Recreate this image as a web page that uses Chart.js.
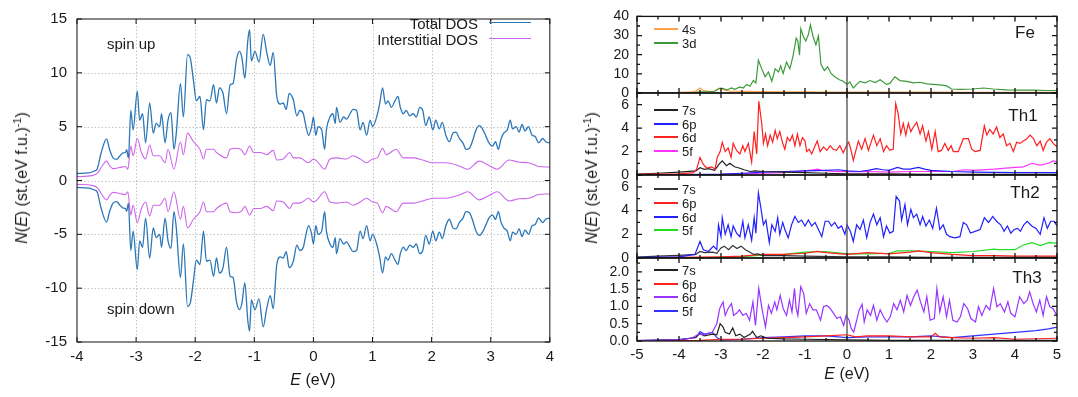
<!DOCTYPE html>
<html>
<head>
<meta charset="utf-8">
<script src="https://cdn.jsdelivr.net/npm/chart.js@4.4.1/dist/chart.umd.min.js"></script>
<style>
html, body { margin: 0; padding: 0; background: #fff; }
#wrap { position: relative; width: 1078px; height: 397px; overflow: hidden;
        font-family: "Liberation Sans", Arial, sans-serif; color: #1a1a1a; }
canvas { position: absolute; top: 0; }
.t { position: absolute; white-space: nowrap; line-height: 1; transform: translate(0, -50%); }
.r { transform: translate(-100%, -50%); }
.c { transform: translate(-50%, -50%); }
.v { transform: translate(-50%, -50%) rotate(-90deg); }
.sw { position: absolute; height: 0; }
sup { font-size: 0.68em; vertical-align: 0.55em; line-height: 0; }
.lg { font-size: 13px; }
</style>
</head>
<body>
<div id="wrap">
  <canvas id="dos" width="560" height="397" style="left:0"></canvas>
  <canvas id="pFe" width="518" height="397" style="left:560px"></canvas>
  <canvas id="pTh1" width="518" height="397" style="left:560px"></canvas>
  <canvas id="pTh2" width="518" height="397" style="left:560px"></canvas>
  <canvas id="pTh3" width="518" height="397" style="left:560px"></canvas>

  <!-- total / interstitial DOS panel labels -->
  <div class="t" style="left:107px;top:43px;font-size:15px">spin up</div>
  <div class="t" style="left:107px;top:308px;font-size:15px">spin down</div>
  <div class="t r" style="left:478px;top:23px;font-size:15px">Total DOS</div>
  <div class="sw" style="left:489px;top:22px;width:42px;border-top:1.5px solid #2b77b8"></div>
  <div class="t r" style="left:478px;top:38.5px;font-size:15px">Interstitial DOS</div>
  <div class="sw" style="left:489px;top:38px;width:42px;border-top:1.5px solid #cc66ee"></div>
  <div class="t v" style="left:22px;top:178px;font-size:16px"><i>N</i>(<i>E</i>) (st.(eV f.u.)<sup>-1</sup>)</div>
  <div class="t c" style="left:313px;top:380px;font-size:16px"><i>E</i> (eV)</div>

  <!-- partial DOS labels -->
  <div class="t v" style="left:592px;top:178px;font-size:16px"><i>N</i>(<i>E</i>) (st.(eV f.u.)<sup>-1</sup>)</div>
  <div class="t c" style="left:847px;top:374px;font-size:16px"><i>E</i> (eV)</div>
  <div class="t c" style="left:1025px;top:32px;font-size:17px">Fe</div>
  <div class="t c" style="left:1023px;top:115px;font-size:17px">Th1</div>
  <div class="t c" style="left:1025px;top:192px;font-size:17px">Th2</div>
  <div class="t c" style="left:1027px;top:277px;font-size:17px">Th3</div>

  <div class="sw" style="left:654px;top:28px;width:24px;border-top:2px solid #ffa24a"></div>
  <div class="t lg" style="left:682px;top:29px">4s</div>
  <div class="sw" style="left:654px;top:42px;width:24px;border-top:2px solid #3a9a3a"></div>
  <div class="t lg" style="left:682px;top:43px">3d</div>

  <div class="sw" style="left:654px;top:109px;width:24px;border-top:2px solid #222"></div>
  <div class="t lg" style="left:682px;top:110px">7s</div>
  <div class="sw" style="left:654px;top:123px;width:24px;border-top:2px solid #2020ff"></div>
  <div class="t lg" style="left:682px;top:124px">6p</div>
  <div class="sw" style="left:654px;top:136px;width:24px;border-top:2px solid #ff2020"></div>
  <div class="t lg" style="left:682px;top:137px">6d</div>
  <div class="sw" style="left:654px;top:150px;width:24px;border-top:2px solid #ff33ff"></div>
  <div class="t lg" style="left:682px;top:151px">5f</div>

  <div class="sw" style="left:654px;top:188px;width:24px;border-top:2px solid #333"></div>
  <div class="t lg" style="left:682px;top:189px">7s</div>
  <div class="sw" style="left:654px;top:202px;width:24px;border-top:2px solid #ff2020"></div>
  <div class="t lg" style="left:682px;top:203px">6p</div>
  <div class="sw" style="left:654px;top:216px;width:24px;border-top:2px solid #2020ff"></div>
  <div class="t lg" style="left:682px;top:217px">6d</div>
  <div class="sw" style="left:654px;top:229px;width:24px;border-top:2px solid #22dd22"></div>
  <div class="t lg" style="left:682px;top:230px">5f</div>

  <div class="sw" style="left:654px;top:269px;width:24px;border-top:2px solid #222"></div>
  <div class="t lg" style="left:682px;top:270px">7s</div>
  <div class="sw" style="left:654px;top:283px;width:24px;border-top:2px solid #ff2020"></div>
  <div class="t lg" style="left:682px;top:284px">6p</div>
  <div class="sw" style="left:654px;top:296px;width:24px;border-top:2px solid #9933ff"></div>
  <div class="t lg" style="left:682px;top:297px">6d</div>
  <div class="sw" style="left:654px;top:310px;width:24px;border-top:2px solid #3333ff"></div>
  <div class="t lg" style="left:682px;top:311px">5f</div>
</div>

<script>
// ---- Total and interstitial DOS, [E (eV), N(E)] ----
const totalUp = [[-4.00,0.65],[-3.80,0.70],[-3.70,0.90],[-3.66,1.05],[-3.59,2.6],[-3.50,3.86],[-3.45,2.9],[-3.39,2.1],[-3.33,1.96],[-3.28,2.26],[-3.22,2.56],[-3.18,2.6],[-3.16,2.86],[-3.13,2.1],[-3.09,6.5],[-3.05,4.7],[-2.98,8.3],[-2.94,5.6],[-2.89,6.2],[-2.84,3.5],[-2.77,7.2],[-2.71,4.4],[-2.66,5.3],[-2.60,5.0],[-2.57,6.2],[-2.51,3.5],[-2.46,5.6],[-2.41,6.3],[-2.36,2.9],[-2.32,4.4],[-2.25,9.0],[-2.20,5.9],[-2.13,11.7],[-2.08,11.3],[-2.03,9.3],[-1.98,7.4],[-1.92,7.8],[-1.86,4.7],[-1.81,7.5],[-1.75,7.4],[-1.69,8.9],[-1.64,7.2],[-1.59,8.6],[-1.53,8.1],[-1.47,6.2],[-1.41,8.9],[-1.36,9.0],[-1.30,11.3],[-1.25,12.0],[-1.21,11.4],[-1.16,9.5],[-1.11,13.0],[-1.08,14.0],[-1.05,11.1],[-0.99,12.0],[-0.92,11.0],[-0.85,13.6],[-0.79,11.9],[-0.73,10.7],[-0.68,11.9],[-0.62,7.8],[-0.56,7.1],[-0.51,7.2],[-0.46,6.6],[-0.41,8.1],[-0.34,7.5],[-0.28,6.0],[-0.23,6.5],[-0.17,6.2],[-0.14,5.4],[-0.08,4.2],[-0.03,5.0],[0.00,5.9],[0.04,4.2],[0.08,5.0],[0.14,4.7],[0.19,2.9],[0.22,4.7],[0.28,5.9],[0.33,6.2],[0.37,5.3],[0.39,6.8],[0.45,5.4],[0.51,5.9],[0.56,5.7],[0.62,6.2],[0.67,6.6],[0.73,6.5],[0.79,4.7],[0.84,5.4],[0.90,4.2],[0.96,5.6],[1.00,5.0],[1.07,5.9],[1.12,7.1],[1.17,8.6],[1.22,7.1],[1.26,7.4],[1.32,6.8],[1.38,7.4],[1.43,7.8],[1.47,6.8],[1.52,6.2],[1.57,6.5],[1.63,6.0],[1.69,6.2],[1.74,5.9],[1.80,6.8],[1.85,6.5],[1.90,5.1],[1.96,5.9],[2.02,4.7],[2.07,5.6],[2.13,4.8],[2.18,5.4],[2.24,4.2],[2.30,3.6],[2.36,4.4],[2.41,4.5],[2.47,3.9],[2.53,3.5],[2.58,2.9],[2.64,3.0],[2.70,3.8],[2.75,4.7],[2.81,5.1],[2.86,4.8],[2.92,4.1],[2.97,3.5],[3.03,3.2],[3.08,3.6],[3.13,2.9],[3.17,3.8],[3.22,4.4],[3.28,4.7],[3.33,5.6],[3.37,4.8],[3.43,5.0],[3.48,4.5],[3.53,5.2],[3.58,4.6],[3.64,5.0],[3.70,4.2],[3.75,4.1],[3.81,3.5],[3.88,3.9],[3.93,3.6],[4.00,3.5]];

const totalDown = [[-4.00,-0.65],[-3.80,-0.70],[-3.70,-0.90],[-3.66,-1.05],[-3.59,-2.6],[-3.50,-3.86],[-3.45,-2.9],[-3.39,-2.1],[-3.33,-1.96],[-3.28,-2.26],[-3.22,-2.56],[-3.18,-2.6],[-3.16,-2.86],[-3.13,-2.1],[-3.09,-6.5],[-3.05,-4.7],[-2.98,-8.3],[-2.94,-5.6],[-2.89,-6.2],[-2.84,-3.5],[-2.77,-7.2],[-2.71,-4.4],[-2.66,-5.3],[-2.60,-5.0],[-2.57,-6.2],[-2.51,-3.5],[-2.46,-5.6],[-2.41,-6.3],[-2.36,-2.9],[-2.32,-4.4],[-2.25,-9.0],[-2.20,-5.9],[-2.13,-11.7],[-2.08,-11.3],[-2.03,-9.3],[-1.98,-7.4],[-1.92,-7.8],[-1.86,-4.7],[-1.81,-7.5],[-1.75,-7.4],[-1.69,-8.9],[-1.64,-7.2],[-1.59,-8.6],[-1.53,-8.1],[-1.47,-6.2],[-1.41,-8.9],[-1.36,-9.0],[-1.30,-11.3],[-1.25,-12.0],[-1.21,-11.4],[-1.16,-9.5],[-1.11,-13.0],[-1.08,-14.0],[-1.05,-11.1],[-0.99,-12.0],[-0.92,-11.0],[-0.85,-13.6],[-0.79,-11.9],[-0.73,-10.7],[-0.68,-11.9],[-0.62,-7.8],[-0.56,-7.1],[-0.51,-7.2],[-0.46,-6.6],[-0.41,-8.1],[-0.34,-7.5],[-0.28,-6.0],[-0.23,-6.5],[-0.17,-6.2],[-0.14,-5.4],[-0.08,-4.2],[-0.03,-5.0],[0.00,-5.9],[0.04,-4.2],[0.08,-5.0],[0.14,-4.7],[0.19,-2.9],[0.22,-4.7],[0.28,-5.9],[0.33,-6.2],[0.37,-5.3],[0.39,-6.8],[0.45,-5.4],[0.51,-5.9],[0.56,-5.7],[0.62,-6.2],[0.67,-6.6],[0.73,-6.5],[0.79,-4.7],[0.84,-5.4],[0.90,-4.2],[0.96,-5.6],[1.00,-5.0],[1.07,-5.9],[1.12,-7.1],[1.17,-8.6],[1.22,-7.1],[1.26,-7.4],[1.32,-6.8],[1.38,-7.4],[1.43,-7.8],[1.47,-6.8],[1.52,-6.2],[1.57,-6.5],[1.63,-6.0],[1.69,-6.2],[1.74,-5.9],[1.80,-6.8],[1.85,-6.5],[1.90,-5.1],[1.96,-5.9],[2.02,-4.7],[2.07,-5.6],[2.13,-4.8],[2.18,-5.4],[2.24,-4.2],[2.30,-3.6],[2.36,-4.4],[2.41,-4.5],[2.47,-3.9],[2.53,-3.5],[2.58,-2.9],[2.64,-3.0],[2.70,-3.8],[2.75,-4.7],[2.81,-5.1],[2.86,-4.8],[2.92,-4.1],[2.97,-3.5],[3.03,-3.2],[3.08,-3.6],[3.13,-2.9],[3.17,-3.8],[3.22,-4.4],[3.28,-4.7],[3.33,-5.6],[3.37,-4.8],[3.43,-5.0],[3.48,-4.5],[3.53,-5.2],[3.58,-4.6],[3.64,-5.0],[3.70,-4.2],[3.75,-4.1],[3.81,-3.5],[3.88,-3.9],[3.93,-3.6],[4.00,-3.5]];

const interUp = [[-4.00,0.36],[-3.75,0.45],[-3.65,0.7],[-3.58,1.3],[-3.50,1.8],[-3.45,1.4],[-3.39,1.1],[-3.28,1.2],[-3.18,1.3],[-3.14,1.05],[-3.09,3.2],[-3.05,2.3],[-2.98,3.9],[-2.91,2.6],[-2.84,2.0],[-2.77,3.3],[-2.71,2.3],[-2.60,2.3],[-2.51,1.65],[-2.46,2.9],[-2.36,1.05],[-2.25,3.6],[-2.20,2.4],[-2.13,4.4],[-2.03,3.6],[-1.92,2.9],[-1.86,2.0],[-1.81,2.9],[-1.69,2.9],[-1.64,2.6],[-1.47,2.1],[-1.41,2.9],[-1.30,3.0],[-1.21,2.8],[-1.16,2.4],[-1.08,3.2],[-1.01,2.6],[-0.90,2.6],[-0.79,2.4],[-0.68,2.8],[-0.62,1.9],[-0.51,2.0],[-0.40,2.6],[-0.34,2.1],[-0.23,2.1],[-0.08,1.65],[0.00,2.0],[0.06,1.8],[0.19,1.05],[0.28,2.0],[0.39,2.1],[0.56,2.0],[0.67,2.3],[0.79,2.0],[0.90,1.65],[1.00,2.0],[1.08,2.1],[1.17,3.0],[1.23,2.4],[1.40,2.9],[1.52,2.1],[1.69,2.1],[1.85,1.9],[2.02,1.65],[2.24,1.65],[2.47,1.35],[2.61,1.05],[2.81,1.8],[2.97,1.4],[3.11,1.05],[3.31,1.9],[3.48,1.7],[3.64,1.65],[3.81,1.3],[4.00,1.25]];

const interDown = [[-4.00,-0.36],[-3.75,-0.45],[-3.65,-0.7],[-3.58,-1.3],[-3.50,-1.8],[-3.45,-1.4],[-3.39,-1.1],[-3.28,-1.2],[-3.18,-1.3],[-3.14,-1.05],[-3.09,-3.2],[-3.05,-2.3],[-2.98,-3.9],[-2.91,-2.6],[-2.84,-2.0],[-2.77,-3.3],[-2.71,-2.3],[-2.60,-2.3],[-2.51,-1.65],[-2.46,-2.9],[-2.36,-1.05],[-2.25,-3.6],[-2.20,-2.4],[-2.13,-4.4],[-2.03,-3.6],[-1.92,-2.9],[-1.86,-2.0],[-1.81,-2.9],[-1.69,-2.9],[-1.64,-2.6],[-1.47,-2.1],[-1.41,-2.9],[-1.30,-3.0],[-1.21,-2.8],[-1.16,-2.4],[-1.08,-3.2],[-1.01,-2.6],[-0.90,-2.6],[-0.79,-2.4],[-0.68,-2.8],[-0.62,-1.9],[-0.51,-2.0],[-0.40,-2.6],[-0.34,-2.1],[-0.23,-2.1],[-0.08,-1.65],[0.00,-2.0],[0.06,-1.8],[0.19,-1.05],[0.28,-2.0],[0.39,-2.1],[0.56,-2.0],[0.67,-2.3],[0.79,-2.0],[0.90,-1.65],[1.00,-2.0],[1.08,-2.1],[1.17,-3.0],[1.23,-2.4],[1.40,-2.9],[1.52,-2.1],[1.69,-2.1],[1.85,-1.9],[2.02,-1.65],[2.24,-1.65],[2.47,-1.35],[2.61,-1.05],[2.81,-1.8],[2.97,-1.4],[3.11,-1.05],[3.31,-1.9],[3.48,-1.7],[3.64,-1.65],[3.81,-1.3],[4.00,-1.25]];

// ---- Partial DOS, [E (eV), N(E)] ----
const fe3d = [[-5,0.05],[-4.5,0.1],[-4,0.2],[-3.6,0.4],[-3.5,0.6],[-3.3,0.7],[-3.15,0.9],[-3.1,1.6],[-3.02,2.6],[-2.94,2.3],[-2.86,1.6],[-2.75,2.6],[-2.67,1.9],[-2.55,3.2],[-2.47,2.6],[-2.39,4.5],[-2.31,3.5],[-2.23,6.5],[-2.17,5.2],[-2.11,17.1],[-2.03,12.6],[-1.95,8.5],[-1.87,11.0],[-1.79,6.1],[-1.71,12.6],[-1.63,11.0],[-1.58,14.2],[-1.52,10.2],[-1.44,16.1],[-1.36,12.6],[-1.28,19.8],[-1.21,28.7],[-1.17,27.1],[-1.13,19.8],[-1.10,33.5],[-1.04,29.5],[-0.98,27.1],[-0.92,30.6],[-0.87,35.6],[-0.80,28.7],[-0.74,25.2],[-0.68,29.8],[-0.62,15.0],[-0.54,11.8],[-0.46,13.7],[-0.38,10.2],[-0.29,8.5],[-0.18,6.9],[-0.09,6.1],[0.00,4.5],[0.07,5.8],[0.15,2.6],[0.23,4.5],[0.31,6.1],[0.43,5.3],[0.55,6.5],[0.67,5.5],[0.79,6.9],[0.94,4.5],[1.02,5.0],[1.14,8.5],[1.26,6.5],[1.42,6.1],[1.58,5.3],[1.74,5.6],[1.90,4.8],[2.06,4.5],[2.21,4.2],[2.37,3.7],[2.49,2.1],[2.69,1.9],[3.00,2.1],[3.25,2.6],[3.48,2.1],[3.80,1.6],[4.12,1.5],[4.44,1.5],[4.75,1.3],[5.00,1.3]];
const fe4s = [[-5,0.1],[-4.5,0.2],[-4,0.3],[-3.7,0.6],[-3.6,1.0],[-3.5,2.6],[-3.42,1.2],[-3.3,0.9],[-3.15,1.0],[-3.05,2.4],[-2.95,1.8],[-2.8,1.0],[-2.5,0.8],[-2,0.7],[-1.5,0.6],[-1,0.6],[-0.5,0.5],[0,0.5],[1,0.5],[2,0.5],[3,0.4],[4,0.4],[5,0.4]];

const th1d6 = [[-5,0.05],[-4.5,0.08],[-4,0.1],[-3.66,0.2],[-3.58,0.5],[-3.50,1.5],[-3.42,0.9],[-3.34,0.6],[-3.22,0.7],[-3.14,0.5],[-3.09,1.5],[-3.02,2.0],[-2.97,2.8],[-2.90,2.0],[-2.83,2.3],[-2.76,1.5],[-2.71,2.7],[-2.63,2.1],[-2.55,1.8],[-2.48,2.5],[-2.43,2.0],[-2.35,2.7],[-2.27,1.1],[-2.21,3.7],[-2.15,1.8],[-2.10,6.3],[-2.03,4.4],[-1.99,2.7],[-1.94,3.5],[-1.89,2.5],[-1.83,3.4],[-1.77,2.8],[-1.71,3.8],[-1.66,3.1],[-1.60,3.7],[-1.53,2.7],[-1.48,2.2],[-1.42,3.2],[-1.36,2.9],[-1.30,3.4],[-1.24,2.5],[-1.18,3.5],[-1.12,2.5],[-1.06,3.2],[-1.00,2.9],[-0.96,2.0],[-0.90,2.2],[-0.84,1.8],[-0.76,2.5],[-0.71,2.9],[-0.64,2.0],[-0.56,2.4],[-0.48,2.1],[-0.40,2.5],[-0.33,2.2],[-0.25,2.1],[-0.17,2.5],[-0.09,1.9],[0.00,2.6],[0.04,2.8],[0.09,2.2],[0.15,1.25],[0.27,2.9],[0.35,2.2],[0.43,3.1],[0.51,2.1],[0.63,3.4],[0.71,2.5],[0.79,3.1],[0.87,2.0],[0.94,2.5],[1.02,2.1],[1.10,2.2],[1.16,6.1],[1.22,5.2],[1.28,3.5],[1.34,4.4],[1.40,3.4],[1.46,4.4],[1.52,3.7],[1.58,4.1],[1.66,4.5],[1.74,3.5],[1.80,4.2],[1.88,2.9],[1.94,3.7],[2.02,2.2],[2.10,3.7],[2.17,2.0],[2.25,2.1],[2.33,2.7],[2.41,2.1],[2.48,2.5],[2.53,2.0],[2.65,2.0],[2.77,3.1],[2.89,3.1],[2.97,2.2],[3.05,2.0],[3.17,2.1],[3.27,4.2],[3.33,3.4],[3.40,3.9],[3.48,3.5],[3.56,4.1],[3.64,3.2],[3.72,3.5],[3.80,2.5],[3.88,2.7],[3.96,2.0],[4.04,2.8],[4.12,2.7],[4.20,2.9],[4.28,3.1],[4.36,3.4],[4.44,3.1],[4.52,2.5],[4.60,2.9],[4.67,2.1],[4.75,2.8],[4.83,3.1],[4.91,2.7],[5.00,2.4]];
const th1s7 = [[-5,0.08],[-4.5,0.15],[-4,0.25],[-3.6,0.35],[-3.5,0.62],[-3.4,0.48],[-3.3,0.55],[-3.15,0.4],[-3.05,0.9],[-2.97,1.2],[-2.87,0.8],[-2.79,1.0],[-2.68,0.7],[-2.57,0.6],[-2.45,0.45],[-2.3,0.3],[-2.2,0.35],[-2.0,0.3],[-1.5,0.25],[-1.0,0.2],[-0.5,0.15],[0,0.1],[1,0.1],[2,0.06],[3,0.05],[4,0.05],[5,0.05]];
const th1p6 = [[-5,0.02],[-3.5,0.05],[-3,0.08],[-2.5,0.15],[-2,0.25],[-1.5,0.3],[-1,0.35],[-0.5,0.4],[-0.2,0.45],[0,0.35],[0.3,0.3],[0.5,0.4],[0.7,0.55],[0.85,0.45],[1.0,0.4],[1.2,0.65],[1.35,0.5],[1.5,0.5],[1.7,0.65],[1.85,0.5],[2,0.4],[2.5,0.3],[3,0.25],[4,0.2],[5,0.2]];
const th1f5 = [[-5,0.01],[-3,0.05],[-2.5,0.1],[-2,0.15],[-1.5,0.2],[-1.2,0.3],[-1,0.35],[-0.8,0.45],[-0.7,0.5],[-0.6,0.4],[-0.3,0.3],[0,0.28],[0.5,0.3],[1,0.25],[1.5,0.3],[2,0.3],[2.5,0.3],[2.8,0.45],[3,0.4],[3.5,0.5],[4,0.65],[4.2,0.7],[4.4,1.0],[4.6,0.85],[4.8,1.0],[4.9,1.2],[5,1.15]];

const th2d6 = [[-5,0.05],[-4.5,0.08],[-4,0.1],[-3.62,0.3],[-3.50,1.4],[-3.42,0.7],[-3.30,0.55],[-3.18,1.0],[-3.10,0.7],[-3.06,2.8],[-3.00,1.8],[-2.97,3.4],[-2.90,2.0],[-2.83,2.8],[-2.76,1.8],[-2.71,2.7],[-2.63,2.1],[-2.55,1.8],[-2.48,3.1],[-2.43,1.7],[-2.35,2.8],[-2.27,1.5],[-2.21,3.4],[-2.17,2.1],[-2.11,5.5],[-2.05,4.2],[-1.99,2.8],[-1.93,3.2],[-1.85,1.3],[-1.79,2.8],[-1.71,2.25],[-1.65,3.4],[-1.60,2.0],[-1.53,3.0],[-1.48,2.4],[-1.40,1.7],[-1.32,2.8],[-1.24,3.5],[-1.16,3.0],[-1.08,3.2],[-1.00,2.7],[-0.92,3.2],[-0.84,2.7],[-0.76,3.0],[-0.68,2.4],[-0.60,1.8],[-0.52,3.1],[-0.44,3.1],[-0.37,2.7],[-0.29,3.0],[-0.21,2.5],[-0.13,2.7],[-0.05,2.0],[0.00,2.8],[0.08,2.25],[0.15,1.4],[0.23,2.8],[0.31,2.4],[0.39,3.2],[0.47,1.7],[0.55,3.0],[0.63,3.7],[0.71,2.8],[0.79,3.4],[0.87,1.8],[0.94,2.7],[1.02,2.1],[1.10,2.25],[1.17,5.2],[1.25,4.8],[1.30,3.2],[1.38,4.5],[1.44,2.8],[1.52,4.1],[1.58,3.4],[1.66,3.7],[1.74,2.8],[1.80,3.5],[1.88,2.7],[1.96,3.2],[2.04,2.5],[2.13,4.2],[2.21,2.4],[2.29,2.8],[2.37,2.0],[2.45,1.8],[2.57,1.7],[2.69,1.8],[2.77,3.0],[2.85,2.8],[2.94,2.1],[3.05,2.25],[3.17,2.4],[3.27,3.4],[3.37,3.0],[3.47,3.5],[3.56,3.1],[3.66,2.8],[3.74,2.25],[3.82,2.7],[3.90,2.1],[3.98,2.4],[4.06,2.5],[4.13,2.25],[4.21,2.8],[4.29,3.1],[4.40,2.7],[4.50,2.5],[4.60,2.0],[4.69,3.4],[4.77,2.5],[4.85,3.1],[4.93,3.1],[5.00,2.7]];
const th2s7 = [[-5,0.08],[-4.5,0.15],[-4,0.22],[-3.6,0.3],[-3.5,0.55],[-3.4,0.45],[-3.2,0.5],[-3.1,0.4],[-3.0,0.85],[-2.92,1.0],[-2.82,0.7],[-2.72,1.05],[-2.62,0.8],[-2.52,1.0],[-2.42,0.7],[-2.32,0.5],[-2.22,0.3],[-2.12,0.35],[-2.0,0.2],[-1.5,0.2],[-1.0,0.15],[0,0.1],[1,0.1],[2,0.05],[3,0.05],[5,0.05]];
const th2p6 = [[-5,0.02],[-3.5,0.08],[-3,0.1],[-2.5,0.15],[-2,0.3],[-1.5,0.3],[-1,0.4],[-0.7,0.55],[-0.5,0.45],[0,0.3],[0.5,0.45],[1,0.35],[1.5,0.5],[1.7,0.6],[2,0.45],[2.5,0.3],[3,0.2],[3.5,0.2],[4,0.15],[5,0.15]];
const th2f5 = [[-5,0.01],[-3,0.05],[-2.5,0.12],[-2,0.25],[-1.5,0.3],[-1,0.5],[-0.5,0.55],[0,0.35],[0.5,0.35],[1,0.4],[1.2,0.6],[1.5,0.6],[2,0.55],[2.5,0.45],[3,0.55],[3.5,0.75],[3.6,0.7],[4,0.7],[4.2,1.1],[4.4,1.3],[4.6,1.05],[4.8,1.3],[5,1.25]];

const th3d6 = [[-5,0.01],[-4.5,0.02],[-4,0.04],[-3.7,0.08],[-3.53,0.2],[-3.4,0.18],[-3.21,0.25],[-3.10,0.5],[-3.03,0.94],[-2.95,1.13],[-2.90,0.74],[-2.83,0.94],[-2.75,1.08],[-2.70,0.74],[-2.63,0.8],[-2.56,0.9],[-2.48,0.74],[-2.40,0.8],[-2.32,0.6],[-2.24,1.13],[-2.18,0.45],[-2.10,1.52],[-2.02,0.9],[-1.94,0.4],[-1.87,1.03],[-1.80,0.8],[-1.72,1.13],[-1.67,0.9],[-1.59,1.32],[-1.52,0.94],[-1.44,0.74],[-1.37,1.18],[-1.31,0.84],[-1.25,1.52],[-1.21,0.94],[-1.17,0.74],[-1.10,1.57],[-1.03,1.37],[-0.97,0.8],[-0.89,1.08],[-0.81,0.9],[-0.73,0.9],[-0.63,0.6],[-0.56,0.99],[-0.48,1.03],[-0.40,0.94],[-0.32,0.8],[-0.24,0.65],[-0.16,0.7],[-0.08,0.45],[-0.02,0.74],[0.05,0.6],[0.10,0.36],[0.16,0.26],[0.24,0.65],[0.29,0.9],[0.36,1.06],[0.41,0.55],[0.48,0.9],[0.56,0.74],[0.63,1.03],[0.71,0.6],[0.79,0.9],[0.87,0.7],[0.95,0.55],[1.03,0.7],[1.11,1.08],[1.19,0.9],[1.27,1.18],[1.35,0.84],[1.43,1.32],[1.51,1.03],[1.59,1.28],[1.67,1.47],[1.75,1.13],[1.83,0.84],[1.90,1.28],[1.98,0.6],[2.08,0.65],[2.14,1.52],[2.21,0.84],[2.29,1.28],[2.37,0.7],[2.44,1.18],[2.52,0.6],[2.62,0.55],[2.70,0.7],[2.78,1.08],[2.87,0.94],[2.95,0.65],[3.06,0.55],[3.13,0.99],[3.21,0.74],[3.31,1.03],[3.40,0.9],[3.49,1.52],[3.57,0.99],[3.65,1.08],[3.75,0.84],[3.83,1.13],[3.90,0.8],[4.00,0.7],[4.11,1.28],[4.21,1.08],[4.29,1.18],[4.35,1.42],[4.43,1.08],[4.51,0.84],[4.59,1.18],[4.67,0.74],[4.75,1.28],[4.83,0.99],[4.90,0.94],[5.00,0.74]];
const th3s7 = [[-5,0.01],[-4,0.04],[-3.6,0.1],[-3.5,0.22],[-3.4,0.15],[-3.2,0.2],[-3.1,0.18],[-3.02,0.5],[-2.95,0.4],[-2.9,0.25],[-2.8,0.2],[-2.72,0.38],[-2.65,0.15],[-2.55,0.2],[-2.45,0.1],[-2.3,0.2],[-2.25,0.28],[-2.15,0.1],[-2.05,0.15],[-1.9,0.08],[-1.5,0.06],[-1,0.05],[0,0.03],[1,0.02],[2,0.02],[5,0.02]];
const th3p6 = [[-5,0.005],[-3.5,0.02],[-3,0.05],[-2.5,0.05],[-2,0.08],[-1.5,0.1],[-1,0.12],[-0.5,0.15],[0,0.18],[0.2,0.12],[0.5,0.15],[1,0.15],[1.5,0.12],[2,0.12],[2.1,0.22],[2.2,0.12],[2.5,0.1],[3,0.08],[3.5,0.1],[4,0.05],[5,0.08]];
const th3f5 = [[-5,0.01],[-4,0.03],[-3.6,0.1],[-3.5,0.27],[-3.4,0.2],[-3.2,0.25],[-3.1,0.1],[-3,0.03],[-2.5,0.05],[-2,0.1],[-1.5,0.12],[-1,0.15],[-0.5,0.15],[0,0.1],[0.5,0.12],[1,0.12],[1.5,0.12],[2,0.15],[2.5,0.1],[3,0.15],[3.5,0.2],[4,0.25],[4.5,0.3],[4.8,0.35],[5,0.4]];

// ---- Drawing helpers ----
const FONT = '"Liberation Sans", Arial, sans-serif';

// Frame, inward tick marks, optional dotted grid and Fermi-level line
const decor = {
  id: 'decor',
  beforeDatasetsDraw(chart, args, o) {
    if (!o.grid) return;
    const { ctx, chartArea: a, scales: { x, y } } = chart;
    ctx.save();
    ctx.strokeStyle = '#c4c4c4';
    ctx.lineWidth = 1;
    ctx.setLineDash([1.5, 2]);
    x.ticks.forEach(t => {
      const p = Math.round(x.getPixelForValue(t.value)) + 0.5;
      if (p <= a.left + 1 || p >= a.right - 1) return;
      ctx.beginPath(); ctx.moveTo(p, a.top); ctx.lineTo(p, a.bottom); ctx.stroke();
    });
    y.ticks.forEach(t => {
      const p = Math.round(y.getPixelForValue(t.value)) + 0.5;
      if (p <= a.top + 1 || p >= a.bottom - 1) return;
      ctx.beginPath(); ctx.moveTo(a.left, p); ctx.lineTo(a.right, p); ctx.stroke();
    });
    ctx.restore();
  },
  afterDatasetsDraw(chart, args, o) {
    const { ctx, chartArea: a, scales: { x, y } } = chart;
    ctx.save();
    if (o.zero) {
      const p = x.getPixelForValue(0);
      ctx.strokeStyle = '#5a5a5a'; ctx.lineWidth = 1.4;
      ctx.beginPath(); ctx.moveTo(p, a.top); ctx.lineTo(p, a.bottom); ctx.stroke();
    }
    ctx.strokeStyle = '#111';
    ctx.lineWidth = o.lw || 1;
    const near = (v, s) => Math.abs(v / s - Math.round(v / s)) < 1e-6;
    // x ticks along top and bottom edges
    for (let v = x.min; v <= x.max + 1e-9; v += o.xStep) {
      const len = near(v, o.xMajor) ? o.major : o.minor;
      const p = x.getPixelForValue(v);
      ctx.beginPath();
      ctx.moveTo(p, a.bottom); ctx.lineTo(p, a.bottom - len);
      ctx.moveTo(p, a.top); ctx.lineTo(p, a.top + len);
      ctx.stroke();
    }
    // y ticks along left and right edges
    for (let v = y.min; v <= y.max + 1e-9; v += o.yStep) {
      const len = near(v, o.yMajor) ? o.major : o.minor;
      const p = y.getPixelForValue(v);
      ctx.beginPath();
      ctx.moveTo(a.left, p); ctx.lineTo(a.left + len, p);
      ctx.moveTo(a.right, p); ctx.lineTo(a.right - len, p);
      ctx.stroke();
    }
    ctx.strokeRect(a.left, a.top, a.right - a.left, a.bottom - a.top);
    ctx.restore();
  }
};
Chart.register(decor);

const line = (data, color, w, smooth) => ({
  data, borderColor: color, borderWidth: w || 1.2,
  pointRadius: 0, fill: false,
  tension: smooth ? 0.4 : 0,
  cubicInterpolationMode: smooth ? 'monotone' : 'default'
});

// ---- Left: total and interstitial DOS, both spins ----
new Chart(document.getElementById('dos'), {
  type: 'line',
  data: {
    datasets: [
      line(totalUp, '#2b77b8', 1.3, true),
      line(totalDown, '#2b77b8', 1.3, true),
      line(interUp, '#cc66ee', 1.1, true),
      line(interDown, '#cc66ee', 1.1, true)
    ]
  },
  options: {
    responsive: false, animation: false, events: [],
    layout: { padding: { left: 0, right: 10, top: 9, bottom: 0 } },
    plugins: {
      legend: { display: false }, tooltip: { enabled: false },
      decor: { grid: true, lw: 1, xStep: 1, xMajor: 1, yStep: 5, yMajor: 5, major: 5, minor: 5 }
    },
    scales: {
      x: {
        type: 'linear', min: -4, max: 4,
        ticks: { stepSize: 1, color: '#1a1a1a', font: { family: FONT, size: 15 }, padding: 6, maxRotation: 0 },
        grid: { display: false, drawTicks: false }, border: { display: false },
        afterFit: s => { s.height = 55; }
      },
      y: {
        min: -15, max: 15,
        ticks: { stepSize: 5, color: '#1a1a1a', font: { family: FONT, size: 15 }, padding: 10 },
        grid: { display: false, drawTicks: false }, border: { display: false },
        afterFit: s => { s.width = 77; }
      }
    }
  }
});

// ---- Right: stacked partial DOS panels ----
function panel(id, sets, top, bottom, ymax, step, minor, isBottom, fmt) {
  new Chart(document.getElementById(id), {
    type: 'line',
    data: { datasets: sets },
    options: {
      responsive: false, animation: false, events: [],
      layout: { padding: { left: 0, right: 21, top: top, bottom: isBottom ? 0 : 397 - bottom } },
      plugins: {
        legend: { display: false }, tooltip: { enabled: false },
        decor: { zero: true, lw: 1.3, xStep: 0.5, xMajor: 1, yStep: minor, yMajor: step, major: 5, minor: 3 }
      },
      scales: {
        x: {
          type: 'linear', min: -5, max: 5, display: isBottom,
          ticks: { stepSize: 1, color: '#1a1a1a', font: { family: FONT, size: 15 }, padding: 5, maxRotation: 0 },
          grid: { display: false, drawTicks: false }, border: { display: false },
          afterFit: s => { s.height = isBottom ? 397 - bottom : 0; }
        },
        y: {
          min: 0, max: ymax,
          ticks: { stepSize: step, includeBounds: false, color: '#1a1a1a',
                   font: { family: FONT, size: 14 }, padding: 8,
                   callback: fmt || (v => String(v)) },
          grid: { display: false, drawTicks: false }, border: { display: false },
          afterFit: s => { s.width = 77; }
        }
      }
    }
  });
}

panel('pFe', [line(fe3d, '#3a9a3a'), line(fe4s, '#ffa24a')], 10, 93, 40, 10, 5, false);
panel('pTh1', [line(th1d6, '#ff2020'), line(th1s7, '#222'), line(th1p6, '#2020ff'), line(th1f5, '#ff33ff')], 93, 175, 7, 2, 1, false);
panel('pTh2', [line(th2d6, '#2020ff'), line(th2s7, '#333'), line(th2p6, '#ff2020'), line(th2f5, '#22dd22')], 175, 258, 7, 2, 1, false);
panel('pTh3', [line(th3d6, '#9933ff'), line(th3s7, '#222'), line(th3p6, '#ff2020'), line(th3f5, '#3333ff')], 258, 341, 2.4, 0.5, 0.25, true, v => v.toFixed(1));
</script>
</body>
</html>
